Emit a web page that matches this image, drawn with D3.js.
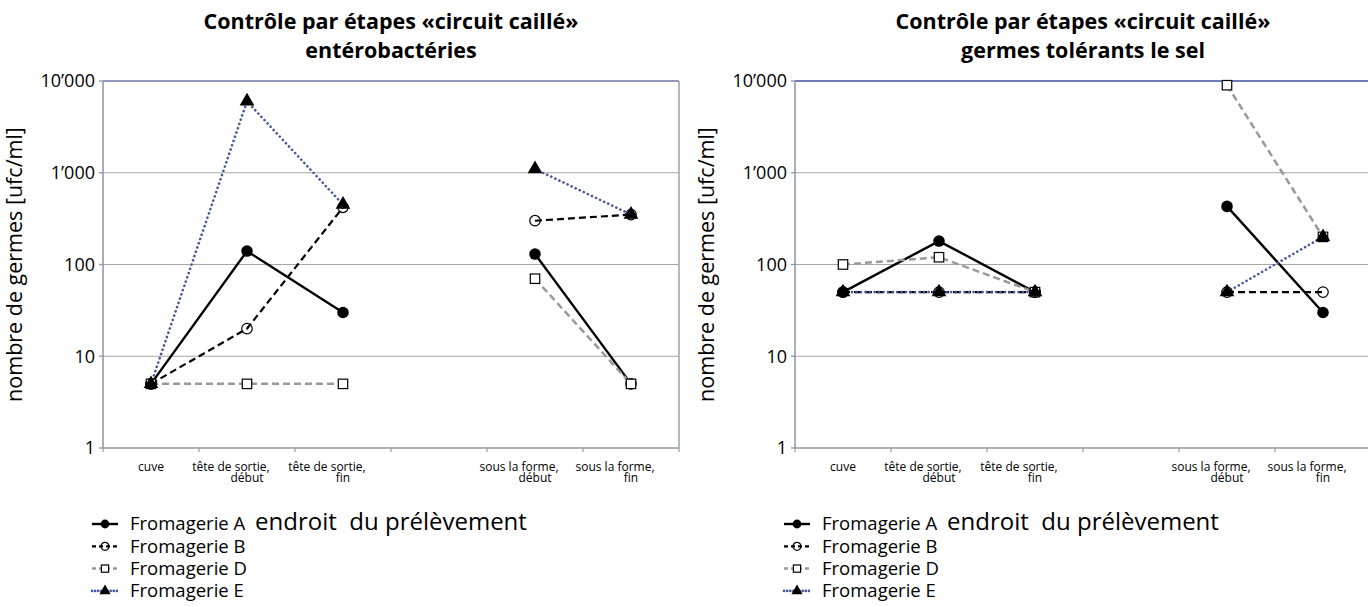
<!DOCTYPE html>
<html>
<head>
<meta charset="utf-8">
<script src="https://cdn.jsdelivr.net/npm/d3@7"></script>
<style>
  body { margin: 0; background: #fff; }
  svg { font-family: "Open Sans", sans-serif; }
</style>
</head>
<body>
<svg id="chart" width="1368" height="607"></svg>
<script>
// categories (the 4th slot is an empty gap on the axis)
var categories = [
  ["cuve"],
  ["tête de sortie,", "début"],
  ["tête de sortie,", "fin"],
  [],
  ["sous la forme,", "début"],
  ["sous la forme,", "fin"]
];
var yTicks = [1, 10, 100, 1000, 10000];
var yTickLabels = ["1", "10", "100", "1’000", "10’000"];
var seriesNames = ["Fromagerie A", "Fromagerie B", "Fromagerie D", "Fromagerie E"];

// entérobactéries
var enteroA = [5, 140, 30, null, 130, 5];
var enteroB = [5, 20, 420, null, 300, 350];
var enteroD = [5, 5, 5, null, 70, 5];
var enteroE = [5, 6000, 450, null, 1100, 350];

// germes tolérants le sel
var selA = [50, 180, 50, null, 430, 30];
var selB = [50, 50, 50, null, 50, 50];
var selD = [100, 120, 50, null, 9000, 200];
var selE = [50, 50, 50, null, 50, 200];

var blue = "#48579a";

var styles = [
  { stroke: "#000", width: 2.4, dash: null, cap: "butt", marker: "dot" },
  { stroke: "#000", width: 2.2, dash: "7,4", cap: "butt", marker: "ring" },
  { stroke: "#999", width: 2.5, dash: "7,4", cap: "butt", marker: "square" },
  { stroke: blue, width: 2.6, dash: "0.1,4.4", cap: "round", marker: "triangle" }
];

var svg = d3.select("#chart");

function drawMarker(sel, kind, size) {
  if (kind == "dot") {
    sel.append("circle").attr("r", size * 0.55).attr("fill", "#000");
  } else if (kind == "ring") {
    sel.append("circle").attr("r", size * 0.5).attr("fill", "none")
      .attr("stroke", "#000").attr("stroke-width", 1.2);
  } else if (kind == "square") {
    sel.append("rect").attr("x", -size * 0.45).attr("y", -size * 0.45)
      .attr("width", size * 0.9).attr("height", size * 0.9)
      .attr("fill", "#fff").attr("stroke", "#000").attr("stroke-width", 1.2);
  } else {
    sel.append("path").attr("d", d3.symbol(d3.symbolTriangle, size * size * 0.85)).attr("fill", "#000");
  }
}

function drawChart(opts) {
  var x = d3.scaleBand().domain(d3.range(categories.length)).range([opts.left, opts.right]);
  var y = d3.scaleLog().domain([1, 10000]).range([448, 81]);
  var g = svg.append("g");

  // gridlines
  g.selectAll(".grid").data(yTicks.slice(1, -1)).enter().append("line")
    .attr("x1", opts.left).attr("x2", opts.right)
    .attr("y1", d => y(d)).attr("y2", d => y(d))
    .attr("stroke", "#a8a8a8").attr("stroke-width", 1.2);
  // top border
  g.append("line").attr("x1", opts.left).attr("x2", opts.right)
    .attr("y1", y(10000)).attr("y2", y(10000))
    .attr("stroke", opts.topColor).attr("stroke-width", 1.3);
  if (opts.rightBorder) {
    g.append("line").attr("x1", opts.right).attr("x2", opts.right)
      .attr("y1", y(10000)).attr("y2", y(1))
      .attr("stroke", "#8d93a8").attr("stroke-width", 1.3);
  }

  // y axis
  g.append("line").attr("x1", opts.left).attr("x2", opts.left)
    .attr("y1", y(10000)).attr("y2", y(1)).attr("stroke", "#8d93a8").attr("stroke-width", 1.5);
  g.selectAll(".ytick").data(yTicks).enter().append("line")
    .attr("x1", opts.left - 4).attr("x2", opts.left)
    .attr("y1", d => y(d)).attr("y2", d => y(d)).attr("stroke", "#8d93a8").attr("stroke-width", 1.3);
  g.selectAll(".ylab").data(yTicks).enter().append("text")
    .attr("x", opts.left - 8).attr("y", d => y(d)).attr("dy", "0.35em")
    .attr("text-anchor", "end").attr("font-size", 18)
    .text((d, i) => yTickLabels[i]);

  // x axis
  g.append("line").attr("x1", opts.left).attr("x2", opts.right)
    .attr("y1", y(1)).attr("y2", y(1)).attr("stroke", "#999").attr("stroke-width", 1.5);
  g.selectAll(".xtick").data(d3.range(categories.length + 1)).enter().append("line")
    .attr("x1", d => opts.left + d * x.step()).attr("x2", d => opts.left + d * x.step())
    .attr("y1", y(1)).attr("y2", y(1) + 4).attr("stroke", "#999").attr("stroke-width", 1.2);
  var xl = g.selectAll(".xlab").data(categories).enter().append("text")
    .attr("text-anchor", "middle").attr("font-size", 12)
    .attr("transform", (d, i) => "translate(" + (x(i) + x.bandwidth() / 2) + ",0)");
  xl.selectAll("tspan").data(d => d).enter().append("tspan")
    .attr("x", (d, j, n) => n.length > 1 && j == 0 ? -16 : 0)
    .attr("y", (d, j) => 471 + j * 11)
    .text(d => d);

  // titles
  var cx = (opts.left + opts.right) / 2;
  g.append("text").attr("x", cx).attr("y", 29).attr("text-anchor", "middle")
    .attr("font-size", 21.5).attr("font-weight", "bold")
    .text("Contrôle par étapes «circuit caillé»");
  g.append("text").attr("x", cx).attr("y", 58).attr("text-anchor", "middle")
    .attr("font-size", 21.5).attr("font-weight", "bold").text(opts.subtitle);
  g.append("text").attr("x", cx).attr("y", 530).attr("text-anchor", "middle")
    .attr("font-size", 24).attr("xml:space", "preserve").style("white-space", "pre")
    .text("endroit  du prélèvement");
  g.append("text").attr("transform", "translate(" + (opts.left - 81) + "," + ((y(1) + y(10000)) / 2) + ") rotate(-90)")
    .attr("text-anchor", "middle").attr("font-size", 21.5)
    .text("nombre de germes [ufc/ml]");

  // series
  var line = d3.line()
    .defined(d => d.v != null)
    .x(d => x(d.i) + x.bandwidth() / 2)
    .y(d => y(d.v));
  opts.series.forEach(function (vals, s) {
    var pts = vals.map((v, i) => ({ i: i, v: v }));
    var st = styles[s];
    g.append("path").datum(pts).attr("d", line)
      .attr("fill", "none").attr("stroke", st.stroke).attr("stroke-width", st.width)
      .attr("stroke-dasharray", st.dash).attr("stroke-linecap", st.cap);
  });
  opts.series.forEach(function (vals, s) {
    var pts = vals.map((v, i) => ({ i: i, v: v })).filter(d => d.v != null);
    g.selectAll(".m" + s).data(pts).enter().append("g")
      .attr("transform", d => "translate(" + (x(d.i) + x.bandwidth() / 2) + "," + y(d.v) + ")")
      .each(function () { drawMarker(d3.select(this), styles[s].marker, 10.5); });
  });

  // legend
  var lg = g.selectAll(".leg").data(seriesNames).enter().append("g")
    .attr("transform", (d, i) => "translate(" + (opts.left - 11) + "," + (524 + i * 22.3) + ")");
  lg.append("line").attr("x1", 0).attr("x2", 26).attr("y1", 0).attr("y2", 0)
    .attr("stroke", (d, i) => styles[i].stroke)
    .attr("stroke-width", (d, i) => styles[i].width)
    .attr("stroke-dasharray", (d, i) => styles[i].dash ? (i == 3 ? "0.1,3" : "4,3") : null)
    .attr("stroke-linecap", (d, i) => i == 3 ? "round" : "butt");
  lg.append("g").attr("transform", "translate(13,0)")
    .each(function (d, i) { drawMarker(d3.select(this), styles[i].marker, 8); });
  lg.append("text").attr("x", 38).attr("dy", "0.35em").attr("font-size", 18.5).text(d => d);
}

drawChart({
  left: 103, right: 679, topColor: "#6b79a6", rightBorder: true,
  subtitle: "entérobactéries",
  series: [enteroA, enteroB, enteroD, enteroE]
});
drawChart({
  left: 795, right: 1371, topColor: "#3e4f9e", rightBorder: false,
  subtitle: "germes tolérants le sel",
  series: [selA, selB, selD, selE]
});
</script>
</body>
</html>
